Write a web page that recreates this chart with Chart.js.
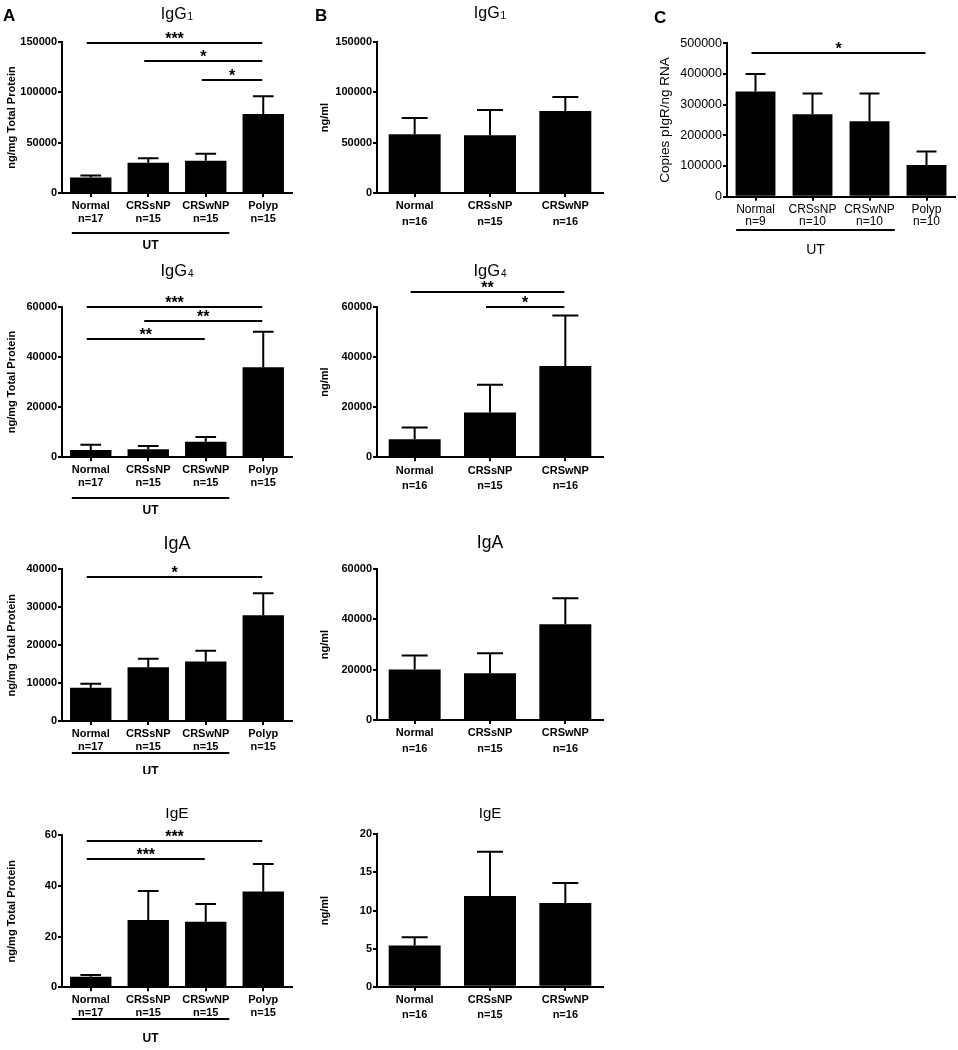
<!DOCTYPE html>
<html>
<head>
<meta charset="utf-8">
<script src="https://cdn.jsdelivr.net/npm/chart.js"></script>
<style>
  body { margin: 0; background: #fff; width: 958px; height: 1050px; position: relative; overflow: hidden; }
  canvas { position: absolute; }
</style>
</head>
<body>
<script>
const FONT = '"Liberation Sans", Arial, Helvetica, sans-serif';

// group labels (name, sample size)
const groupsA = [['Normal', 'n=17'], ['CRSsNP', 'n=15'], ['CRSwNP', 'n=15'], ['Polyp', 'n=15']];
const groupsB = [['Normal', 'n=16'], ['CRSsNP', 'n=15'], ['CRSwNP', 'n=16']];
const groupsC = [['Normal', 'n=9'], ['CRSsNP', 'n=10'], ['CRSwNP', 'n=10'], ['Polyp', 'n=10']];

// y tick values
const ticksG1 = [0, 50000, 100000, 150000];
const ticksG4 = [0, 20000, 40000, 60000];
const ticksTissueIgA = [0, 10000, 20000, 30000, 40000];
const ticksTissueIgE = [0, 20, 40, 60];
const ticksSerumIgA = [0, 20000, 40000, 60000];
const ticksSerumIgE = [0, 5, 10, 15, 20];
const ticksPigr = [0, 100000, 200000, 300000, 400000, 500000];

// panel A - tissue, ng/mg total protein (mean and mean + SEM)
const tissueIgG1 = [15500, 30000, 32000, 78500];
const tissueIgG1Err = [17500, 34500, 39000, 96000];
const tissueIgG4 = [2900, 3200, 6200, 35900];
const tissueIgG4Err = [5000, 4500, 8100, 50000];
const tissueIgA = [8800, 14200, 15700, 27900];
const tissueIgAErr = [9800, 16400, 18500, 33700];
const tissueIgE = [4.2, 26.5, 25.8, 37.7];
const tissueIgEErr = [4.8, 37.9, 32.8, 48.6];

// panel B - serum, ng/ml
const serumIgG1 = [58300, 57300, 81500];
const serumIgG1Err = [74500, 82400, 95400];
const serumIgG4 = [7200, 17800, 36400];
const serumIgG4Err = [11900, 28900, 56500];
const serumIgA = [20100, 18600, 38000];
const serumIgAErr = [25600, 26500, 48400];
const serumIgE = [5.4, 11.9, 11.0];
const serumIgEErr = [6.5, 17.7, 13.6];

// panel C - pIgR copies / ng RNA
const pigr = [343000, 269000, 246000, 103000];
const pigrErr = [400000, 336000, 336000, 147000];

// significance brackets: [from group, to group, level, stars]
const sigTissueIgG1 = [[0, 3, 149500, '***'], [1, 3, 130800, '*'], [2, 3, 112000, '*']];
const sigTissueIgG4 = [[0, 3, 59800, '***'], [1, 3, 54300, '**'], [0, 2, 47000, '**']];
const sigTissueIgA = [[0, 3, 38000, '*']];
const sigTissueIgE = [[0, 3, 57.6, '***'], [0, 2, 50.4, '***']];
const sigSerumIgG4 = [[0, 2, 66000, '**'], [1, 2, 59800, '*']];
const sigPigr = [[0, 3, 469000, '*']];

const styles = {
  A: { tick: { size: 11, weight: 'bold' }, cat: { size: 11, weight: 'bold', lineHeight: 1.2 }, catPad: 2,
       yTitle: { size: 11, weight: 'bold' }, yTitlePad: 5, bar: 0.72, ut: { size: 12, weight: 'bold' } },
  B: { tick: { size: 11, weight: 'bold' }, cat: { size: 11, weight: 'bold', lineHeight: 1.4 }, catPad: 1.5,
       yTitle: { size: 11, weight: 'bold' }, yTitlePad: 18, bar: 0.69, ut: { size: 12, weight: 'bold' } },
  C: { tick: { size: 12.5, weight: 'normal' }, cat: { size: 12, weight: 'normal', lineHeight: 1.05 }, catPad: 2.3,
       yTitle: { size: 13.5, weight: 'normal' }, yTitlePad: 27, bar: 0.7, ut: { size: 14, weight: 'normal' } }
};

const specs = [
  { box: [0, 0, 300, 258], plot: [62, 42, 292, 193], style: 'A', panel: ['A', 3, 21],
    labels: groupsA, means: tissueIgG1, errs: tissueIgG1Err, ticks: ticksG1, yTitle: 'ng/mg Total Protein',
    title: ['IgG', '1'], titleSize: 16, titleBase: 19, sig: sigTissueIgG1, ut: [40, 53] },
  { box: [0, 258, 300, 258], plot: [62, 306.7, 292, 457.3], style: 'A',
    labels: groupsA, means: tissueIgG4, errs: tissueIgG4Err, ticks: ticksG4, yTitle: 'ng/mg Total Protein',
    title: ['IgG', '4'], titleSize: 16.5, titleBase: 276, sig: sigTissueIgG4, ut: [41, 53] },
  { box: [0, 516, 300, 258], plot: [62, 569.3, 292, 721], style: 'A',
    labels: groupsA, means: tissueIgA, errs: tissueIgAErr, ticks: ticksTissueIgA, yTitle: 'ng/mg Total Protein',
    title: ['IgA', ''], titleSize: 18, titleBase: 549, sig: sigTissueIgA, ut: [32, 51] },
  { box: [0, 774, 300, 276], plot: [62, 835, 292, 987.3], style: 'A',
    labels: groupsA, means: tissueIgE, errs: tissueIgEErr, ticks: ticksTissueIgE, yTitle: 'ng/mg Total Protein',
    title: ['IgE', ''], titleSize: 15.5, titleBase: 818, sig: sigTissueIgE, ut: [32, 51] },

  { box: [300, 0, 320, 258], plot: [377, 42, 603, 193], style: 'B', panel: ['B', 15, 21],
    labels: groupsB, means: serumIgG1, errs: serumIgG1Err, ticks: ticksG1, yTitle: 'ng/ml',
    title: ['IgG', '1'], titleSize: 16, titleBase: 18, sig: [], ut: null },
  { box: [300, 258, 320, 258], plot: [377, 306.7, 603, 457.3], style: 'B',
    labels: groupsB, means: serumIgG4, errs: serumIgG4Err, ticks: ticksG4, yTitle: 'ng/ml',
    title: ['IgG', '4'], titleSize: 16.5, titleBase: 276, sig: sigSerumIgG4, ut: null },
  { box: [300, 516, 320, 258], plot: [377, 569, 603, 720], style: 'B',
    labels: groupsB, means: serumIgA, errs: serumIgAErr, ticks: ticksSerumIgA, yTitle: 'ng/ml',
    title: ['IgA', ''], titleSize: 17.5, titleBase: 548, sig: [], ut: null },
  { box: [300, 774, 320, 276], plot: [377, 834.3, 603, 986.7], style: 'B',
    labels: groupsB, means: serumIgE, errs: serumIgEErr, ticks: ticksSerumIgE, yTitle: 'ng/ml',
    title: ['IgE', ''], titleSize: 15, titleBase: 818, sig: [], ut: null },

  { box: [630, 0, 328, 258], plot: [727, 43.3, 955, 196.7], style: 'C', panel: ['C', 24, 23],
    labels: groupsC, means: pigr, errs: pigrErr, ticks: ticksPigr, yTitle: 'Copies pIgR/ng RNA',
    title: null, sig: sigPigr, ut: [33, 53] }
];

function fontStr(f) {
  return `${f.weight || 'normal'} ${f.size}px ${FONT}`;
}

function decorations(spec, st) {
  return {
    id: 'decorations',
    afterDatasetsDraw(chart) {
      const { ctx, chartArea: area, scales: { x, y } } = chart;
      const bars = chart.getDatasetMeta(0).data;
      ctx.save();
      ctx.strokeStyle = '#000';
      ctx.fillStyle = '#000';
      ctx.lineWidth = 2;

      // error bars, upper half only
      spec.errs.forEach((v, i) => {
        const b = bars[i];
        const top = y.getPixelForValue(v);
        const cap = b.width / 4;
        ctx.beginPath();
        ctx.moveTo(b.x, b.y);
        ctx.lineTo(b.x, top);
        ctx.moveTo(b.x - cap, top);
        ctx.lineTo(b.x + cap, top);
        ctx.stroke();
      });

      // significance brackets
      ctx.textAlign = 'center';
      ctx.textBaseline = 'alphabetic';
      ctx.font = 'bold 16px ' + FONT;
      spec.sig.forEach(([a, b, v, stars]) => {
        const x0 = x.getPixelForValue(a) - 4;
        const x1 = x.getPixelForValue(b) - 1;
        const yy = Math.round(y.getPixelForValue(v));
        ctx.beginPath();
        ctx.moveTo(x0, yy);
        ctx.lineTo(x1, yy);
        ctx.stroke();
        ctx.fillText(stars, (x0 + x1) / 2, yy + 1);
      });

      // UT underline for the untreated groups
      if (spec.ut) {
        ctx.font = fontStr(st.cat);
        const x0 = x.getPixelForValue(0) - ctx.measureText(spec.labels[0][0]).width / 2;
        const x1 = x.getPixelForValue(2) + ctx.measureText(spec.labels[2][0]).width / 2;
        const ly = Math.round(area.bottom + spec.ut[0]);
        ctx.beginPath();
        ctx.moveTo(x0, ly);
        ctx.lineTo(x1, ly);
        ctx.stroke();
        ctx.font = fontStr(st.ut);
        ctx.textBaseline = 'middle';
        ctx.fillText('UT', (x0 + x1) / 2, area.bottom + spec.ut[1]);
      }

      // chart title with subscript
      if (spec.title) {
        const [main, sub] = spec.title;
        const base = spec.titleBase - spec.box[1];
        ctx.textAlign = 'left';
        ctx.textBaseline = 'alphabetic';
        ctx.font = `${spec.titleSize}px ${FONT}`;
        const wMain = ctx.measureText(main).width;
        const subSize = Math.round(spec.titleSize * 0.6);
        ctx.font = `${subSize}px ${FONT}`;
        const wSub = sub ? ctx.measureText(sub).width + 1 : 0;
        const left = (area.left + area.right) / 2 - (wMain + wSub) / 2;
        ctx.font = `${spec.titleSize}px ${FONT}`;
        ctx.fillText(main, left, base);
        if (sub) {
          ctx.font = `${subSize}px ${FONT}`;
          ctx.fillText(sub, left + wMain + 1, base + 1);
        }
      }

      // panel letter
      if (spec.panel) {
        ctx.textAlign = 'left';
        ctx.textBaseline = 'alphabetic';
        ctx.font = 'bold 17px ' + FONT;
        ctx.fillText(spec.panel[0], spec.panel[1], spec.panel[2]);
      }
      ctx.restore();
    }
  };
}

function makeChart(spec) {
  const st = styles[spec.style];
  const [bl, bt, bw, bh] = spec.box;
  const [pl, pt, pr, pb] = spec.plot;
  const xh = 45;
  const yw = pl - bl;

  const canvas = document.createElement('canvas');
  canvas.width = bw;
  canvas.height = bh;
  canvas.style.left = bl + 'px';
  canvas.style.top = bt + 'px';
  document.body.appendChild(canvas);

  const t = spec.ticks;
  new Chart(canvas.getContext('2d'), {
    type: 'bar',
    data: {
      labels: spec.labels,
      datasets: [{
        data: spec.means,
        backgroundColor: '#000',
        borderWidth: 0,
        barPercentage: st.bar,
        categoryPercentage: 1
      }]
    },
    options: {
      responsive: false,
      animation: false,
      devicePixelRatio: 1,
      events: [],
      layout: {
        padding: { left: 0, top: pt - bt, right: bl + bw - pr, bottom: bt + bh - pb - xh }
      },
      plugins: {
        legend: { display: false },
        title: { display: false },
        tooltip: { enabled: false }
      },
      scales: {
        x: {
          afterFit(s) { s.height = xh; },
          grid: { display: true, drawOnChartArea: false, drawTicks: true, tickLength: 4, color: '#000', lineWidth: 2, offset: false },
          border: { display: true, color: '#000', width: 2 },
          ticks: { color: '#000', font: st.cat, padding: st.catPad, maxRotation: 0, autoSkip: false }
        },
        y: {
          min: t[0],
          max: t[t.length - 1],
          afterFit(s) { s.width = yw; },
          grid: { display: true, drawOnChartArea: false, drawTicks: true, tickLength: 4, color: '#000', lineWidth: 2 },
          border: { display: true, color: '#000', width: 2 },
          ticks: { color: '#000', font: st.tick, padding: 1, stepSize: t[1] - t[0], callback: (v) => String(v) },
          title: { display: true, text: spec.yTitle, color: '#000', font: st.yTitle, padding: { top: st.yTitlePad, bottom: 0 } }
        }
      }
    },
    plugins: [decorations(spec, st)]
  });
}

specs.forEach(makeChart);
</script>
</body>
</html>
